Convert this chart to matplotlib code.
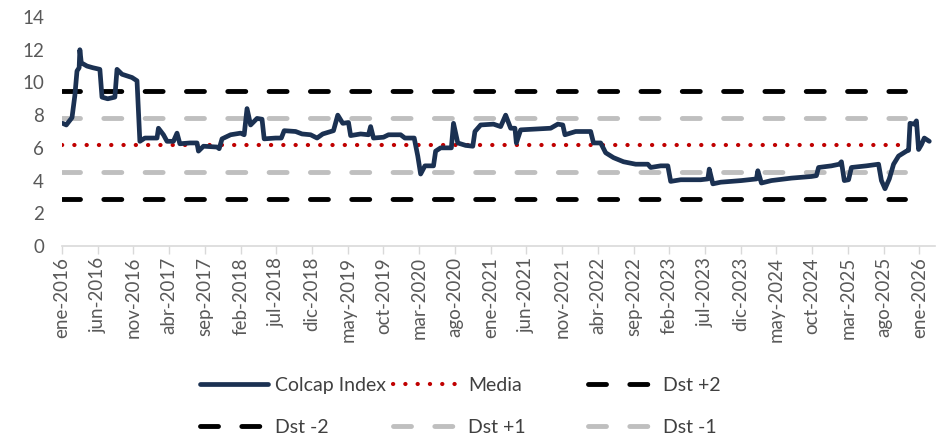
#!/usr/bin/env python3
"""Colcap index with mean and standard-deviation bands."""

import matplotlib.pyplot as plt
from matplotlib.lines import Line2D

# months elapsed since ene-2016 and index value
months = [
    0.1, 0.6, 1.4, 1.8, 2.1, 2.4, 2.5, 2.7, 3.5, 4.3, 5.3, 5.6, 6.4, 7.4, 7.7, 8.4,
    9.8, 10.5, 10.9, 11.6, 13.3, 13.5, 14.2, 14.7, 15.6, 16.1, 16.5, 17.9, 18.9,
    19.1, 19.8, 21.7, 22.0, 22.4, 23.6, 25.0, 25.5, 25.9, 26.4, 27.3, 28.0, 28.3,
    29.9, 30.7, 31.1, 32.7, 33.6, 34.8, 35.7, 36.5, 38.0, 38.6, 39.3, 40.1, 40.4,
    41.8, 42.9, 43.2, 43.6, 45.0, 45.7, 47.4, 48.0, 49.3, 49.8, 50.2, 50.8, 52.0,
    52.3, 53.0, 54.5, 54.8, 55.4, 56.5, 57.5, 57.8, 58.6, 60.4, 61.4, 62.1, 62.8,
    63.4, 63.6, 64.2, 66.3, 68.4, 69.4, 70.1, 70.4, 71.9, 74.0, 74.4, 75.4, 76.1,
    77.2, 78.6, 80.3, 82.0, 82.4, 83.8, 84.8, 85.2, 86.6, 89.4, 90.4, 90.6, 91.1,
    92.2, 95.1, 97.2, 97.4, 97.9, 99.3, 102.1, 104.9, 105.6, 105.9, 107.7, 108.8,
    109.1, 109.5, 110.1, 110.5, 112.6, 114.3, 114.7, 115.2, 115.8, 116.4, 117.1,
    118.2, 118.5, 118.7, 119.3, 119.6, 119.9, 120.3, 120.7, 121.4,
]
colcap = [
    7.5, 7.4, 7.85, 9.2, 10.7, 10.9, 12.0, 11.2, 11.0, 10.9, 10.8, 9.1, 9.0, 9.1, 10.8, 10.5,
    10.3, 10.1, 6.4, 6.6, 6.6, 7.2, 6.8, 6.4, 6.4, 6.9, 6.25, 6.3, 6.3,
    5.8, 6.1, 6.05, 5.95, 6.55, 6.8, 6.9, 6.8, 8.4, 7.4, 7.8, 7.75, 6.55,
    6.6, 6.6, 7.05, 7.0, 6.85, 6.8, 6.6, 6.85, 7.05, 8.0, 7.5, 7.55, 6.75,
    6.85, 6.8, 7.3, 6.6, 6.65, 6.8, 6.8, 6.6, 6.6, 5.5, 4.4, 4.9, 4.9,
    5.8, 6.0, 6.0, 7.5, 6.3, 6.15, 6.1, 7.0, 7.4, 7.45, 7.3, 8.0, 7.2,
    7.2, 6.3, 7.1, 7.15, 7.2, 7.45, 7.4, 6.8, 7.0, 7.0, 6.3, 6.3, 5.7,
    5.4, 5.15, 5.0, 5.0, 4.8, 4.9, 4.9, 3.95, 4.05, 4.05, 4.1, 4.7, 3.8,
    3.9, 4.0, 4.1, 4.6, 3.85, 4.0, 4.15, 4.25, 4.3, 4.8, 4.9, 5.0,
    5.15, 4.0, 4.05, 4.8, 4.9, 5.0, 4.0, 3.5, 4.1, 5.0, 5.5,
    5.8, 5.85, 7.5, 7.45, 7.65, 5.9, 6.2, 6.6, 6.4,
]

stat_span = [0, 118]
media = 6.2
dst_p2 = 9.5
dst_m2 = 2.9
dst_p1 = 7.85
dst_m1 = 4.55

tick_months = list(range(0, 121, 5))
tick_labels = [
    "ene-2016", "jun-2016", "nov-2016", "abr-2017", "sep-2017", "feb-2018",
    "jul-2018", "dic-2018", "may-2019", "oct-2019", "mar-2020", "ago-2020",
    "ene-2021", "jun-2021", "nov-2021", "abr-2022", "sep-2022", "feb-2023",
    "jul-2023", "dic-2023", "may-2024", "oct-2024", "mar-2025", "ago-2025",
    "ene-2026",
]

NAVY = "#1b3152"
RED = "#c00000"
GRAY = "#bfbfbf"
TXT = "#595959"

plt.rcParams["font.family"] = ["Lato", "DejaVu Sans"]

fig = plt.figure(figsize=(9.48, 4.36), dpi=100)
ax = fig.add_axes([0.0654, 0.4358, 0.9209, 0.5252])

dash_style = dict(linewidth=3.5, dashes=(3.7, 4.8), dash_capstyle="round")
ax.plot(stat_span, [dst_p2] * 2, color="black", **dash_style)
ax.plot(stat_span, [dst_m2] * 2, color="black", **dash_style)
ax.plot(stat_span, [dst_p1] * 2, color=GRAY, **dash_style)
ax.plot(stat_span, [dst_m1] * 2, color=GRAY, **dash_style)
ax.plot(stat_span, [media] * 2, color=RED, linewidth=3.0,
        dashes=(0.05, 2.9), dash_capstyle="round")
ax.plot(months, colcap, color=NAVY, linewidth=3.4, solid_joinstyle="round",
        solid_capstyle="round")

ax.set_xlim(0, 122.2)
ax.set_ylim(0, 14)
ax.set_yticks(range(0, 15, 2))
ax.set_xticks(tick_months)
ax.set_xticklabels(tick_labels, rotation=90)
ax.tick_params(axis="y", length=0, pad=13, labelsize=13.5, labelcolor=TXT)
ax.tick_params(axis="x", length=6, width=1, color="#d9d9d9", pad=2,
               labelsize=13.5, labelcolor=TXT)
for side in ("top", "right", "left"):
    ax.spines[side].set_visible(False)
ax.spines["bottom"].set_color("#d9d9d9")
ax.spines["bottom"].set_linewidth(1.2)

# legend laid out as three columns like the source
h_colcap = Line2D([], [], color=NAVY, linewidth=3.4, solid_capstyle="round")
h_media = Line2D([], [], color=RED, linewidth=3.0, dashes=(0.05, 2.9),
                 dash_capstyle="round")
h_p2 = Line2D([], [], color="black", **dash_style)
h_m2 = Line2D([], [], color="black", **dash_style)
h_p1 = Line2D([], [], color=GRAY, **dash_style)
h_m1 = Line2D([], [], color=GRAY, **dash_style)

columns = [
    ([h_colcap, h_m2], ["Colcap Index", "Dst -2"], 200),
    ([h_media, h_p1], ["Media", "Dst +1"], 393),
    ([h_p2, h_m1], ["Dst +2", "Dst -1"], 588),
]
for handles, labels, x_px in columns:
    leg = fig.legend(handles, labels, loc="upper left",
                     bbox_to_anchor=(x_px / 948, 1 - 377 / 436),
                     frameon=False, fontsize=14, handlelength=3.5,
                     handletextpad=0.35, labelspacing=1.3,
                     borderpad=0, borderaxespad=0)
    for t in leg.get_texts():
        t.set_color("#404040")

fig.savefig("out.png", dpi=100)
